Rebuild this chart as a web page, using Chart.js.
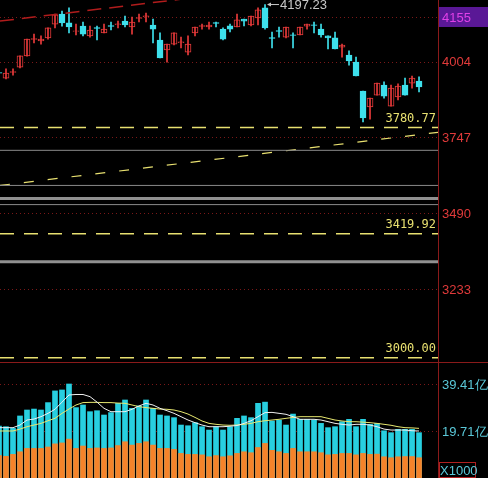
<!DOCTYPE html>
<html>
<head>
<meta charset="utf-8">
<script src="https://cdn.jsdelivr.net/npm/chart.js@4/dist/chart.umd.min.js"></script>
<style>
  body { margin:0; background:#000; overflow:hidden; }
  #wrap { position:relative; width:488px; height:478px; }
  #priceChart { position:absolute; left:0; top:0; }
  #volBox { position:absolute; left:0; top:362px; width:488px; height:116px; border-top:1px solid #8a1a1a; box-sizing:border-box; }
</style>
</head>
<body>
<div id="wrap">
  <canvas id="priceChart" width="488" height="362"></canvas>
  <div id="volBox"><canvas id="volChart" width="488" height="115"></canvas></div>
</div>
<script>
// candles, oldest first
var opens  = [3966,3948,3968,3985,4023,4080,4074,4084,4131,4165,4135,4106,4124,4091,4118,4101,4125,4130,4141,4121,4151,4157,4128,4077,4043,4063,4069,4036,4101,4124,4121,4135,4114,4125,4121,4148,4128,4152,4186,4084,4108,4087,4094,4094,4124,4128,4114,4091,4084,4053,4026,4002,3904,3850,3890,3924,3853,3884,3924,3931,3938];
var highs  = [3968,3979,3979,4023,4080,4097,4091,4118,4165,4175,4186,4131,4138,4124,4124,4131,4138,4141,4158,4155,4165,4168,4148,4101,4063,4101,4087,4091,4121,4131,4138,4138,4118,4131,4165,4148,4158,4186,4197.23,4104,4121,4121,4101,4121,4131,4138,4131,4091,4104,4063,4040,4019,3904,3880,3931,3935,3924,3928,3948,3955,3952];
var lows   = [3962,3945,3958,3982,4022,4067,4063,4080,4118,4124,4101,4094,4091,4087,4077,4101,4111,4118,4121,4097,4138,4138,4067,4016,4002,4060,4050,4026,4091,4114,4114,4121,4077,4104,4121,4125,4125,4128,4114,4050,4087,4084,4050,4094,4114,4101,4087,4047,4047,4019,3992,3955,3799,3809,3890,3880,3853,3874,3890,3914,3901];
var closes = [3965,3965,3969,4023,4080,4081,4080,4118,4162,4135,4121,4108,4097,4111,4117,4114,4124,4131,4128,4138,4152,4158,4114,4016,4063,4101,4070,4063,4121,4125,4128,4134,4080,4114,4145,4141,4158,4179,4118,4083,4107,4121,4093,4121,4131,4127,4094,4084,4047,4060,4006,3955,3813,3880,3931,3887,3914,3921,3890,3948,3918];

// volume (亿) and its two average lines
var volTotal  = [21.8,21.5,20.8,26.0,28.5,28.9,28.5,31.6,36.5,36.9,39.4,29.5,30.6,27.8,28.2,26.4,27.4,31.3,32.7,29.2,30.2,32.7,29.2,26.4,26.0,25.3,22.2,21.9,23.2,21.5,20.1,21.5,20.1,21.5,25.0,26.0,25.3,31.3,31.8,23.9,24.3,22.2,26.8,24.6,24.6,24.3,22.9,21.1,21.5,23.6,24.6,21.5,24.6,22.5,22.9,19.8,19.0,20.4,20.4,20.4,19.0];
var volOrange = [9.4,9.1,9.9,11.0,12.4,12.4,12.4,13.0,14.3,14.7,16.3,12.4,13.4,12.4,12.6,12.4,12.6,13.6,15.2,13.8,14.5,15.2,13.8,12.4,12.4,12.0,10.3,9.9,9.9,9.7,8.9,9.4,8.9,9.3,10.3,11.0,10.6,12.8,14.5,11.6,11.0,10.3,12.4,11.0,11.0,11.0,10.6,9.7,9.9,10.3,10.3,9.7,10.3,9.9,10.0,8.9,8.5,8.9,9.0,9.0,8.5];
var maWhite  = [21.1,21.1,21.1,22.2,24.3,24.7,25.7,27.1,28.8,31.8,34.8,35.0,35.0,34.1,31.8,29.2,27.8,27.8,27.8,28.8,30.2,31.3,30.6,29.2,28.2,27.1,25.7,24.3,23.2,22.2,21.5,21.5,21.5,21.7,22.0,22.9,24.0,25.7,27.4,27.5,27.1,26.7,25.7,24.6,24.6,24.6,24.3,23.6,22.9,22.5,22.2,22.5,22.5,22.2,21.5,20.5,20.1,20.1,20.1,19.8,19.7];
var maYellow = [19.7,19.7,19.7,20.5,21.5,22.2,22.9,24.0,25.0,27.1,28.9,30.6,31.6,31.7,31.7,31.6,31.6,31.4,31.3,30.6,29.9,29.5,29.2,28.9,28.8,28.5,27.8,26.8,25.4,23.9,22.9,22.5,22.2,22.1,22.2,22.5,22.9,23.6,24.0,24.3,24.6,25.0,25.4,25.7,25.7,25.7,25.7,25.0,24.3,23.9,23.6,23.6,23.4,23.2,22.9,22.5,22.1,21.5,21.1,21.0,20.8];

var priceTicks = [4155, 4004, 3747, 3490, 3233];
var volTicks = [19.71, 39.41];
var grayLevels = [3703, 3584, 3519];
var grayThick = [3540, 3325];
var yellowLevels = [3780.77, 3419.92, 3000.00];
var riseLine = [3584, 3764];   // yellow trend, left end / right end
var topLine = [4141, 4321];    // red trend, left end / right end
var highMark = 4197.23;

var RED = '#e83a3a', CYAN = '#3ee0ec';
var XMIN = 0.143, XMAX = 62.71;
var FONT = '13px "Liberation Sans", Arial, sans-serif';

function pts(arr) { return arr.map(function(v, i){ return {x:i, y:v}; }); }
function flat(v) { return [{x:XMIN, y:v}, {x:XMAX, y:v}]; }

var isUp = closes.map(function(c, i){ return c >= opens[i]; });
var wicks = lows.map(function(l, i){ return {x:i, y:[l, highs[i]]}; });
var bodies = opens.map(function(o, i){
  var a = Math.min(o, closes[i]), b = Math.max(o, closes[i]);
  if (b - a < 1.5) { a -= 0.8; b += 0.8; }
  return {x:i, y:[a, b]};
});

var datasets = [];
grayLevels.forEach(function(v){ datasets.push({type:'line', data:flat(v), borderColor:'#8a8a8a', borderWidth:1, pointRadius:0}); });
grayThick.forEach(function(v){ datasets.push({type:'line', data:flat(v), borderColor:'#909090', borderWidth:3, pointRadius:0}); });
yellowLevels.forEach(function(v){ datasets.push({type:'line', data:flat(v), borderColor:'#e8e070', borderWidth:1.5, borderDash:[14,10], pointRadius:0}); });
datasets.push({type:'line', data:[{x:XMIN,y:riseLine[0]},{x:XMAX,y:riseLine[1]}], borderColor:'#e8e070', borderWidth:1.2, borderDash:[10,14], pointRadius:0});
datasets.push({type:'line', data:[{x:XMIN,y:topLine[0]},{x:XMAX,y:topLine[1]}], borderColor:'#b01c1c', borderWidth:1.5, borderDash:[14,8], pointRadius:0});
datasets.push({type:'bar', data:wicks, barThickness:1, grouped:false,
  backgroundColor:isUp.map(function(u){ return u ? RED : CYAN; })});
datasets.push({type:'bar', data:bodies, barThickness:6, grouped:false, borderSkipped:false, borderWidth:1,
  backgroundColor:isUp.map(function(u){ return u ? '#000' : CYAN; }),
  borderColor:isUp.map(function(u){ return u ? RED : CYAN; })});

function drawLevels(chart, ticks, colorFn, fmt) {
  var ctx = chart.ctx, y = chart.scales.y, a = chart.chartArea;
  ctx.save();
  ctx.strokeStyle = '#7a1818'; ctx.setLineDash([1,3]);
  ticks.forEach(function(v){ var p = Math.round(y.getPixelForValue(v)) + 0.5;
    ctx.beginPath(); ctx.moveTo(a.left, p); ctx.lineTo(a.right, p); ctx.stroke(); });
  ctx.restore();
}
function drawTickText(chart, ticks, colorFn, fmt) {
  var ctx = chart.ctx, y = chart.scales.y;
  ctx.save();
  ctx.font = FONT; ctx.textAlign = 'left'; ctx.textBaseline = 'middle';
  ticks.forEach(function(v){ ctx.fillStyle = colorFn(v); ctx.fillText(fmt(v), 442, y.getPixelForValue(v) + 1); });
  ctx.restore();
}

var priceDecor = {
  id:'priceDecor',
  beforeDraw: function(chart) {
    var ctx = chart.ctx, y = chart.scales.y;
    ctx.fillStyle = '#000';
    ctx.fillRect(0, 0, chart.width, chart.height);
    var py = y.getPixelForValue(priceTicks[0]);
    ctx.fillStyle = '#5a1896';
    ctx.fillRect(439, py - 10, 49, 20);
  },
  beforeDatasetsDraw: function(chart) { drawLevels(chart, priceTicks); },
  afterDatasetsDraw: function(chart) {
    var ctx = chart.ctx, x = chart.scales.x, y = chart.scales.y;
    ctx.save();
    ctx.font = '12px "DejaVu Sans Mono", monospace';
    ctx.fillStyle = '#e8e070';
    ctx.textAlign = 'right';
    ctx.textBaseline = 'bottom';
    yellowLevels.forEach(function(v){ ctx.fillText(v.toFixed(2), 436, y.getPixelForValue(v) - 3); });
    // high marker
    var hx = x.getPixelForValue(38), hy = y.getPixelForValue(highMark);
    ctx.strokeStyle = '#c8c8c8'; ctx.fillStyle = '#c8c8c8'; ctx.lineWidth = 1;
    ctx.beginPath(); ctx.moveTo(hx + 3, hy); ctx.lineTo(hx + 14, hy); ctx.stroke();
    ctx.beginPath(); ctx.moveTo(hx + 2, hy); ctx.lineTo(hx + 6, hy - 2); ctx.lineTo(hx + 6, hy + 2); ctx.fill();
    ctx.font = FONT;
    ctx.textAlign = 'left'; ctx.textBaseline = 'middle';
    ctx.fillText(highMark.toFixed(2), hx + 15, hy + 1);
    ctx.restore();
    drawTickText(chart, priceTicks, function(v){ return v === priceTicks[0] ? '#e040e8' : '#e03a3a'; }, String);
  }
};

function yAxis(min, max) {
  return { position:'right', min:min, max:max,
    afterFit:function(s){ s.width = 50; },
    border:{ color:'#8a1a1a', width:1 },
    grid:{ display:false },
    ticks:{ display:false } };
}

new Chart(document.getElementById('priceChart'), {
  data: { datasets: datasets },
  options: {
    responsive:false, animation:false, devicePixelRatio:1,
    layout:{ padding:0 },
    plugins:{ legend:{display:false}, tooltip:{enabled:false} },
    scales:{
      x:{ type:'linear', min:XMIN, max:XMAX, offset:false, display:false },
      y:yAxis(2985.4, 4212.6)
    }
  },
  plugins:[priceDecor]
});

new Chart(document.getElementById('volChart'), {
  data: { datasets: [
    { type:'line', data:pts(maWhite), borderColor:'#f0f0f0', borderWidth:1, pointRadius:0 },
    { type:'line', data:pts(maYellow), borderColor:'#e8e870', borderWidth:1, pointRadius:0 },
    { type:'bar', data:pts(volOrange), backgroundColor:'#f5832a', barThickness:5, grouped:false },
    { type:'bar', data:pts(volTotal), backgroundColor:'#28cfe0', barThickness:5, grouped:false }
  ]},
  options: {
    responsive:false, animation:false, devicePixelRatio:1,
    layout:{ padding:0 },
    plugins:{ legend:{display:false}, tooltip:{enabled:false} },
    scales:{
      x:{ type:'linear', min:XMIN, max:XMAX, offset:false, display:false },
      y:yAxis(0, 48.2)
    }
  },
  plugins:[{
    id:'volDecor',
    beforeDraw:function(chart){
      var ctx = chart.ctx; ctx.fillStyle = '#000'; ctx.fillRect(0, 0, chart.width, chart.height);
    },
    beforeDatasetsDraw:function(chart){ drawLevels(chart, volTicks); },
    afterDraw:function(chart){
      drawTickText(chart, volTicks, function(){ return '#5ac8d8'; }, function(v){ return v.toFixed(2) + '亿'; });
      var ctx = chart.ctx;
      ctx.save();
      ctx.strokeStyle = '#b02020'; ctx.lineWidth = 1;
      ctx.strokeRect(439.5, 99.5, 36, 15);
      ctx.fillStyle = '#5ac8d8'; ctx.font = FONT;
      ctx.textBaseline = 'middle'; ctx.fillText('X1000', 440, 108);
      ctx.restore();
    }
  }]
});
</script>
</body>
</html>
